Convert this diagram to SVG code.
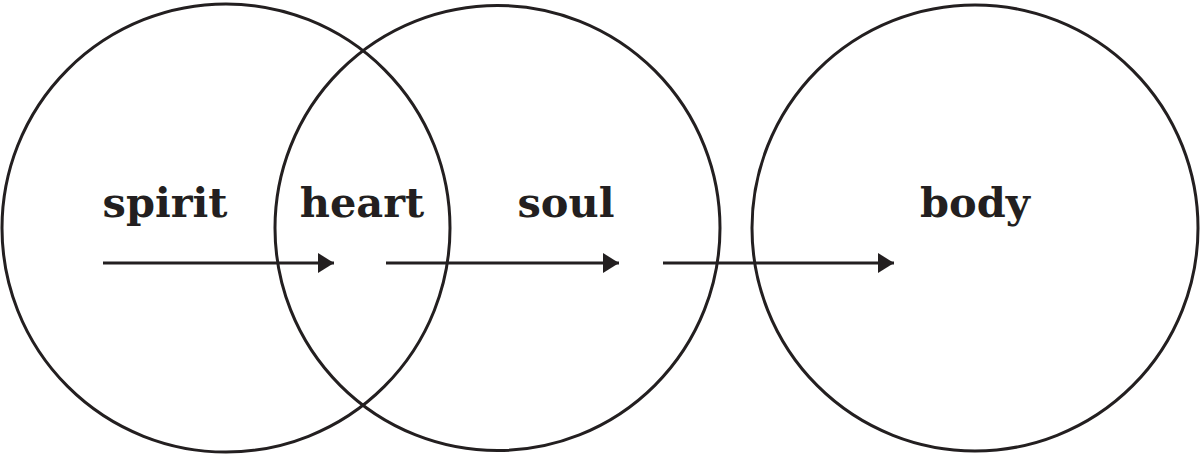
<svg xmlns="http://www.w3.org/2000/svg" width="1201" height="455" viewBox="0 0 1201 455">
<style>
.c{fill:none;stroke:#231f20;stroke-width:3}
.t{font-family:"DejaVu Serif","Liberation Serif",serif;font-weight:bold;font-size:41.5px;fill:#231f20;text-anchor:middle}
.a{stroke:#231f20;stroke-width:3;fill:none}
</style>
<defs>
<marker id="ah" markerUnits="userSpaceOnUse" markerWidth="17" markerHeight="20" refX="16" refY="10" orient="auto">
<path d="M0,0 L16,10 L0,20 Z" fill="#231f20"/>
</marker>
</defs>
<rect width="1201" height="455" fill="#fff"/>
<g id="spirit"><circle class="c" cx="226" cy="228" r="224"/><text class="t" x="165" y="217">spirit</text></g>
<g id="soul"><circle class="c" cx="497.5" cy="228" r="222.5"/><text class="t" x="566" y="217">soul</text></g>
<g id="heart"><text class="t" x="362" y="217">heart</text></g>
<g id="body"><circle class="c" cx="975" cy="228" r="223"/><text class="t" x="975" y="217">body</text></g>
<g id="connectors">
<line class="a" x1="103" y1="263" x2="334" y2="263" marker-end="url(#ah)"/>
<line class="a" x1="386" y1="263" x2="619" y2="263" marker-end="url(#ah)"/>
<line class="a" x1="663" y1="263" x2="894" y2="263" marker-end="url(#ah)"/>
</g>
</svg>
